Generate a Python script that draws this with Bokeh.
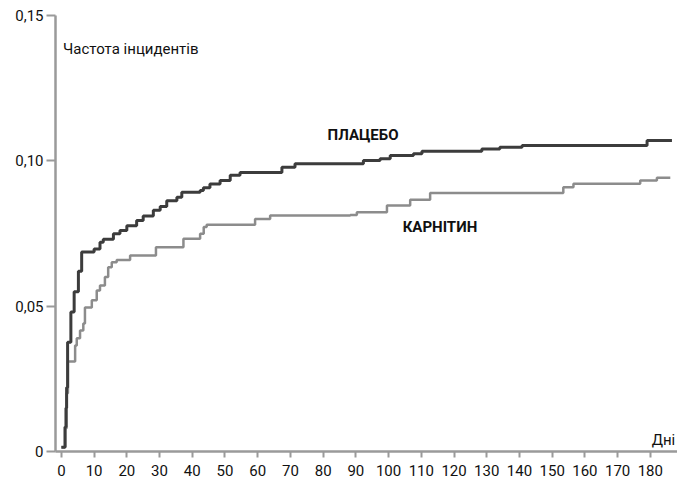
from bokeh.plotting import figure
from bokeh.models import Range1d, FixedTicker, Label
from bokeh.embed import file_html
from bokeh.resources import INLINE

# ---- data ----
days_placebo = [0, 1.1, 1.4, 1.6, 1.9, 2.9, 3.9, 5.2, 6.2, 10.0, 11.8, 12.8, 15.9, 17.9, 20.0,
                23.0, 25.0, 28.1, 30.2, 32.2, 35.3, 36.8, 42.4, 43.4, 45.4, 48.5, 51.6, 54.6,
                67.4, 71.4, 92.3, 97.4, 100.5, 107.6, 110.2, 128.5, 134.0, 140.8, 179.0, 186.6]
rate_placebo = [0.0015, 0.0084, 0.015, 0.022, 0.0376, 0.048, 0.055, 0.062, 0.0686, 0.0697, 0.072,
                0.073, 0.0749, 0.076, 0.0777, 0.0795, 0.081, 0.083, 0.0843, 0.0863, 0.0875, 0.0892,
                0.0898, 0.0907, 0.092, 0.0932, 0.095, 0.096, 0.0978, 0.099, 0.1001, 0.1007, 0.1018,
                0.1024, 0.1033, 0.1041, 0.1047, 0.1053, 0.107, 0.107]

days_carnitine = [0, 1.2, 1.6, 2.0, 4.2, 4.7, 5.7, 6.7, 7.2, 9.3, 10.8, 11.8, 13.3, 14.3, 15.4,
                  16.9, 21.0, 28.9, 37.3, 42.4, 43.5, 44.4, 59.2, 63.8, 88.3, 90.3, 99.5, 106.6,
                  112.7, 153.4, 156.5, 176.9, 182.0, 186.1]
rate_carnitine = [0.0015, 0.008, 0.02, 0.031, 0.0365, 0.039, 0.0416, 0.044, 0.0495, 0.052, 0.0554,
                  0.0571, 0.060, 0.0634, 0.0651, 0.0659, 0.0674, 0.0703, 0.0732, 0.0749, 0.0772,
                  0.078, 0.080, 0.0812, 0.0814, 0.0823, 0.0846, 0.0866, 0.0889, 0.0909, 0.0921,
                  0.0932, 0.0942, 0.0942]

x_ticks = list(range(0, 190, 10))
y_ticks = [0, 0.05, 0.10, 0.15]
y_tick_labels = ["0", "0,05", "0,10", "0,15"]

y_title = "Частота інцидентів"
x_title = "Дні"
series_names = ["ПЛАЦЕБО", "КАРНІТИН"]

FONT = "Roboto"

p = figure(width=677, height=478, output_backend="svg", toolbar_location=None,
           x_range=Range1d(-1.8, 188.3), y_range=Range1d(0, 0.15),
           min_border_left=55, min_border_right=0, min_border_top=15, min_border_bottom=27)
p.outline_line_color = None
p.xgrid.visible = False
p.ygrid.visible = False
p.background_fill_color = "white"

axis_color = "#9a9a9a"
for ax in (p.xaxis[0], p.yaxis[0]):
    ax.axis_line_color = axis_color
    ax.axis_line_width = 2.5
    ax.major_tick_line_color = axis_color
    ax.major_tick_line_width = 2
    ax.minor_tick_line_color = None
    ax.major_tick_in = 0
    ax.major_label_text_font = FONT
    ax.major_label_text_font_size = "15px"
    ax.major_label_text_color = "#111111"

p.xaxis[0].ticker = FixedTicker(ticks=x_ticks)
p.xaxis[0].major_tick_out = 6
p.xaxis[0].major_label_standoff = 7

p.yaxis[0].ticker = FixedTicker(ticks=y_ticks)
p.yaxis[0].major_label_overrides = {t: l for t, l in zip(y_ticks, y_tick_labels)}
p.yaxis[0].major_tick_out = 9
p.yaxis[0].major_label_standoff = 3

p.step(days_carnitine, rate_carnitine, mode="after", line_color="#8c8c8c", line_width=2.5)
p.step(days_placebo, rate_placebo, mode="after", line_color="#3c3c3c", line_width=3)

p.add_layout(Label(x=0.5, y=0.1385, text=y_title, text_font=FONT, text_font_size="15px",
                   text_baseline="middle", text_align="left", text_color="#111111"))
p.add_layout(Label(x=187.6, y=0.0038, text=x_title, text_font=FONT, text_font_size="15px",
                   text_baseline="middle", text_align="right", text_color="#111111"))
p.add_layout(Label(x=92.2, y=0.109, text=series_names[0], text_font=FONT, text_font_size="15px",
                   text_font_style="bold", text_baseline="middle", text_align="center",
                   text_color="#111111"))
p.add_layout(Label(x=115.7, y=0.0774, text=series_names[1], text_font=FONT, text_font_size="15px",
                   text_font_style="bold", text_baseline="middle", text_align="center",
                   text_color="#111111"))

open("out.html", "w").write(file_html(p, INLINE))
